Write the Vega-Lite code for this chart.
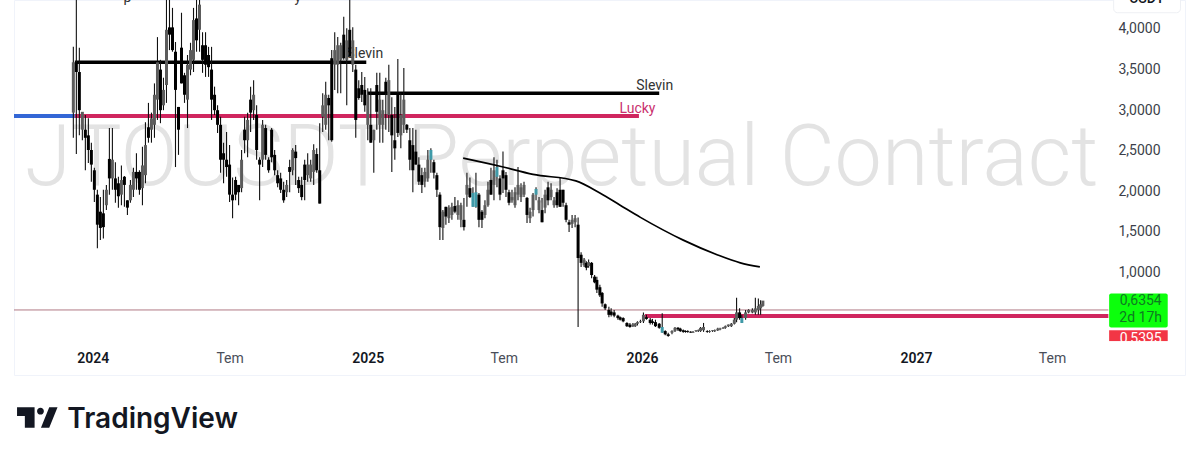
{"$schema":"https://vega.github.io/schema/vega-lite/v6.json","width":1171,"height":375,"autosize":{"type":"none"},"padding":{"left":14,"top":0,"right":15,"bottom":85},"background":"white","config":{"view":{"stroke":"#f0f3fa"},"font":"Roboto"},
"datasets":{"candles":[
{"d":"2023-12-06","h":3.76,"l":2.64,"o":2.95,"c":3.57,"s":"u"},{"d":"2023-12-10","h":4.45,"l":2.44,"o":3.57,"c":3.45,"s":"d"},{"d":"2023-12-14","h":3.75,"l":2.67,"o":3.45,"c":2.98,"s":"d"},{"d":"2023-12-18","h":2.92,"l":2.61,"o":2.74,"c":2.96,"s":"u"},{"d":"2023-12-22","h":2.92,"l":2.24,"o":2.74,"c":2.64,"s":"d"},{"d":"2023-12-26","h":2.88,"l":2.33,"o":2.67,"c":2.49,"s":"d"},{"d":"2023-12-30","h":2.58,"l":2.10,"o":2.49,"c":2.31,"s":"d"},
{"d":"2024-01-03","h":2.27,"l":1.85,"o":2.24,"c":2.00,"s":"d"},{"d":"2024-01-07","h":2.00,"l":1.28,"o":1.94,"c":1.57,"s":"d"},{"d":"2024-01-11","h":1.91,"l":1.38,"o":1.73,"c":1.53,"s":"d"},{"d":"2024-01-15","h":2.00,"l":1.40,"o":1.71,"c":1.54,"s":"d"},{"d":"2024-01-19","h":2.06,"l":1.75,"o":1.81,"c":2.00,"s":"u"},{"d":"2024-01-23","h":2.76,"l":1.94,"o":2.38,"c":2.14,"s":"d"},{"d":"2024-01-27","h":2.76,"l":2.00,"o":2.14,"c":2.37,"s":"u"},{"d":"2024-01-31","h":2.34,"l":1.84,"o":2.14,"c":2.00,"s":"d"},
{"d":"2024-02-04","h":2.16,"l":1.78,"o":2.08,"c":1.92,"s":"d"},{"d":"2024-02-08","h":2.30,"l":1.81,"o":1.94,"c":2.12,"s":"u"},{"d":"2024-02-12","h":2.17,"l":1.79,"o":2.16,"c":2.06,"s":"d"},{"d":"2024-02-16","h":1.87,"l":1.69,"o":1.87,"c":1.78,"s":"d"},{"d":"2024-02-20","h":2.12,"l":1.84,"o":1.87,"c":2.06,"s":"u"},{"d":"2024-02-24","h":2.27,"l":1.91,"o":2.00,"c":2.22,"s":"u"},{"d":"2024-02-28","h":2.45,"l":2.00,"o":2.22,"c":2.14,"s":"d"},
{"d":"2024-03-03","h":2.24,"l":1.94,"o":2.22,"c":2.00,"s":"d"},{"d":"2024-03-07","h":2.53,"l":1.81,"o":2.02,"c":2.30,"s":"u"},{"d":"2024-03-11","h":2.83,"l":2.08,"o":2.18,"c":2.55,"s":"u"},{"d":"2024-03-15","h":3.07,"l":2.58,"o":2.77,"c":2.64,"s":"d"},{"d":"2024-03-19","h":2.95,"l":2.58,"o":2.74,"c":2.88,"s":"u"},{"d":"2024-03-23","h":3.31,"l":2.64,"o":2.80,"c":3.17,"s":"u"},{"d":"2024-03-27","h":3.88,"l":2.86,"o":3.11,"c":3.57,"s":"u"},{"d":"2024-03-31","h":3.60,"l":2.82,"o":3.48,"c":2.98,"s":"d"},
{"d":"2024-04-04","h":3.38,"l":2.98,"o":3.04,"c":3.23,"s":"u"},{"d":"2024-04-08","h":4.40,"l":3.07,"o":3.29,"c":3.97,"s":"u"},{"d":"2024-04-12","h":4.45,"l":3.72,"o":4.00,"c":3.91,"s":"d"},{"d":"2024-04-16","h":4.24,"l":3.70,"o":4.00,"c":3.72,"s":"d"},{"d":"2024-04-20","h":3.82,"l":2.28,"o":3.70,"c":3.23,"s":"d"},{"d":"2024-04-24","h":3.02,"l":2.43,"o":3.02,"c":2.74,"s":"d"},{"d":"2024-04-28","h":4.18,"l":3.31,"o":3.75,"c":3.31,"s":"d"},
{"d":"2024-05-02","h":3.44,"l":3.07,"o":3.41,"c":3.17,"s":"d"},{"d":"2024-05-06","h":3.66,"l":2.76,"o":3.11,"c":3.54,"s":"u"},{"d":"2024-05-10","h":3.81,"l":3.41,"o":3.48,"c":3.72,"s":"u"},{"d":"2024-05-14","h":4.24,"l":3.45,"o":3.60,"c":4.09,"s":"u"},{"d":"2024-05-18","h":4.45,"l":3.70,"o":4.11,"c":3.84,"s":"d"},{"d":"2024-05-22","h":4.50,"l":3.70,"o":3.97,"c":4.28,"s":"u"},{"d":"2024-05-26","h":3.94,"l":3.44,"o":3.78,"c":3.60,"s":"d"},{"d":"2024-05-30","h":3.94,"l":3.39,"o":3.78,"c":3.54,"s":"d"},
{"d":"2024-06-03","h":3.76,"l":3.39,"o":3.66,"c":3.51,"s":"d"},{"d":"2024-06-07","h":3.76,"l":2.86,"o":3.48,"c":3.11,"s":"d"},{"d":"2024-06-11","h":3.27,"l":2.92,"o":3.17,"c":2.98,"s":"d"},{"d":"2024-06-15","h":3.04,"l":2.70,"o":2.98,"c":2.80,"s":"d"},{"d":"2024-06-19","h":2.90,"l":2.21,"o":2.80,"c":2.37,"s":"d"},{"d":"2024-06-23","h":2.58,"l":2.08,"o":2.45,"c":2.37,"s":"d"},{"d":"2024-06-27","h":2.71,"l":2.16,"o":2.37,"c":2.28,"s":"d"},
{"d":"2024-07-01","h":2.55,"l":1.85,"o":2.31,"c":1.94,"s":"d"},{"d":"2024-07-05","h":2.15,"l":1.65,"o":1.94,"c":1.87,"s":"d"},{"d":"2024-07-09","h":2.16,"l":1.87,"o":2.12,"c":1.94,"s":"d"},{"d":"2024-07-13","h":2.06,"l":1.81,"o":2.06,"c":1.97,"s":"d"},{"d":"2024-07-17","h":2.49,"l":1.97,"o":2.02,"c":2.37,"s":"u"},{"d":"2024-07-21","h":2.90,"l":2.45,"o":2.74,"c":2.61,"s":"d"},{"d":"2024-07-25","h":2.95,"l":2.40,"o":2.61,"c":2.86,"s":"u"},{"d":"2024-07-29","h":3.27,"l":2.71,"o":3.11,"c":2.95,"s":"d"},
{"d":"2024-08-02","h":3.35,"l":2.86,"o":2.98,"c":3.17,"s":"u"},{"d":"2024-08-06","h":3.04,"l":2.37,"o":2.92,"c":2.49,"s":"d"},{"d":"2024-08-10","h":2.40,"l":1.87,"o":2.37,"c":2.31,"s":"d"},{"d":"2024-08-14","h":2.86,"l":2.28,"o":2.37,"c":2.80,"s":"u"},{"d":"2024-08-18","h":2.80,"l":2.37,"o":2.76,"c":2.43,"s":"d"},{"d":"2024-08-22","h":2.40,"l":2.21,"o":2.37,"c":2.24,"s":"d"},{"d":"2024-08-26","h":2.76,"l":2.34,"o":2.74,"c":2.40,"s":"d"},{"d":"2024-08-30","h":2.49,"l":2.18,"o":2.43,"c":2.24,"s":"d"},
{"d":"2024-09-03","h":2.24,"l":2.03,"o":2.18,"c":2.08,"s":"d"},{"d":"2024-09-07","h":2.21,"l":1.96,"o":2.14,"c":2.00,"s":"d"},{"d":"2024-09-11","h":2.10,"l":1.84,"o":2.00,"c":1.87,"s":"d"},{"d":"2024-09-15","h":2.12,"l":1.91,"o":1.97,"c":2.06,"s":"u"},{"d":"2024-09-19","h":2.37,"l":1.97,"o":2.28,"c":2.22,"s":"d"},{"d":"2024-09-23","h":2.51,"l":2.18,"o":2.24,"c":2.49,"s":"u"},{"d":"2024-09-27","h":2.55,"l":2.06,"o":2.47,"c":2.39,"s":"d"},
{"d":"2024-10-01","h":2.16,"l":1.96,"o":2.12,"c":2.02,"s":"d"},{"d":"2024-10-05","h":2.16,"l":1.87,"o":2.06,"c":1.91,"s":"d"},{"d":"2024-10-09","h":2.37,"l":1.87,"o":2.31,"c":2.12,"s":"d"},{"d":"2024-10-13","h":2.45,"l":2.10,"o":2.18,"c":2.31,"s":"u"},{"d":"2024-10-17","h":2.37,"l":2.10,"o":2.14,"c":2.31,"s":"u"},{"d":"2024-10-21","h":2.56,"l":2.06,"o":2.22,"c":2.49,"s":"u"},{"d":"2024-10-25","h":2.51,"l":2.21,"o":2.44,"c":2.24,"s":"d"},{"d":"2024-10-29","h":2.82,"l":1.83,"o":2.24,"c":1.83,"s":"d"},
{"d":"2024-11-02","h":3.19,"l":2.71,"o":2.90,"c":3.04,"s":"u"},{"d":"2024-11-06","h":3.33,"l":2.74,"o":2.80,"c":3.17,"s":"u"},{"d":"2024-11-10","h":3.17,"l":2.61,"o":3.13,"c":3.04,"s":"d"},{"d":"2024-11-14","h":3.72,"l":2.59,"o":3.62,"c":2.61,"s":"d"},{"d":"2024-11-18","h":3.94,"l":3.23,"o":3.54,"c":3.72,"s":"u"},{"d":"2024-11-22","h":3.88,"l":3.19,"o":3.54,"c":3.78,"s":"u"},{"d":"2024-11-26","h":3.81,"l":3.19,"o":3.60,"c":3.78,"s":"u"},{"d":"2024-11-30","h":4.13,"l":3.60,"o":3.91,"c":3.62,"s":"d"},
{"d":"2024-12-04","h":3.99,"l":3.04,"o":3.60,"c":3.84,"s":"u"},{"d":"2024-12-08","h":4.45,"l":3.64,"o":3.97,"c":3.64,"s":"d"},{"d":"2024-12-12","h":4.00,"l":3.45,"o":3.54,"c":3.84,"s":"u"},{"d":"2024-12-16","h":3.54,"l":2.64,"o":3.48,"c":2.86,"s":"d"},{"d":"2024-12-20","h":3.35,"l":3.11,"o":3.25,"c":3.13,"s":"d"},{"d":"2024-12-24","h":3.45,"l":3.08,"o":3.29,"c":3.17,"s":"d"},{"d":"2024-12-28","h":3.39,"l":2.96,"o":3.23,"c":3.04,"s":"d"},
{"d":"2025-01-01","h":3.25,"l":2.61,"o":2.80,"c":3.17,"s":"u"},{"d":"2025-01-05","h":3.25,"l":2.58,"o":2.80,"c":2.58,"s":"d"},{"d":"2025-01-09","h":2.74,"l":2.21,"o":2.61,"c":2.74,"s":"u"},{"d":"2025-01-13","h":3.44,"l":2.74,"o":3.29,"c":2.96,"s":"d"},{"d":"2025-01-17","h":3.44,"l":2.58,"o":2.80,"c":3.11,"s":"u"},{"d":"2025-01-21","h":3.11,"l":2.58,"o":2.80,"c":2.98,"s":"u"},{"d":"2025-01-25","h":3.38,"l":2.74,"o":3.33,"c":3.19,"s":"d"},{"d":"2025-01-29","h":3.54,"l":2.71,"o":2.92,"c":3.35,"s":"u"},
{"d":"2025-02-02","h":3.14,"l":2.22,"o":2.92,"c":2.67,"s":"d"},{"d":"2025-02-06","h":3.02,"l":2.37,"o":2.61,"c":2.51,"s":"d"},{"d":"2025-02-10","h":3.61,"l":2.65,"o":3.19,"c":2.70,"s":"d"},{"d":"2025-02-14","h":3.19,"l":2.51,"o":2.67,"c":2.92,"s":"u"},{"d":"2025-02-18","h":3.50,"l":2.70,"o":2.80,"c":3.11,"s":"u"},{"d":"2025-02-22","h":2.81,"l":2.70,"o":2.80,"c":2.74,"s":"d"},{"d":"2025-02-26","h":2.76,"l":2.24,"o":2.61,"c":2.37,"s":"d"},
{"d":"2025-03-02","h":2.76,"l":1.97,"o":2.55,"c":2.24,"s":"d"},{"d":"2025-03-06","h":2.74,"l":2.31,"o":2.47,"c":2.31,"s":"d"},{"d":"2025-03-10","h":2.40,"l":2.06,"o":2.31,"c":2.10,"s":"d"},{"d":"2025-03-14","h":2.27,"l":1.96,"o":2.18,"c":2.06,"s":"d"},{"d":"2025-03-18","h":2.27,"l":2.03,"o":2.10,"c":2.22,"s":"u"},{"d":"2025-03-22","h":2.49,"l":2.10,"o":2.14,"c":2.37,"s":"u"},{"d":"2025-03-26","h":2.51,"l":2.21,"o":2.37,"c":2.49,"s":"t"},{"d":"2025-03-30","h":2.37,"l":2.14,"o":2.34,"c":2.21,"s":"d"},
{"d":"2025-04-03","h":2.21,"l":1.91,"o":2.18,"c":2.00,"s":"d"},{"d":"2025-04-07","h":1.97,"l":1.38,"o":1.94,"c":1.54,"s":"d"},{"d":"2025-04-11","h":1.75,"l":1.38,"o":1.53,"c":1.73,"s":"u"},{"d":"2025-04-15","h":1.79,"l":1.57,"o":1.79,"c":1.67,"s":"d"},{"d":"2025-04-19","h":1.81,"l":1.59,"o":1.65,"c":1.78,"s":"u"},{"d":"2025-04-23","h":1.84,"l":1.63,"o":1.69,"c":1.79,"s":"u"},{"d":"2025-04-27","h":1.91,"l":1.71,"o":1.80,"c":1.73,"s":"d"},
{"d":"2025-05-01","h":1.87,"l":1.63,"o":1.69,"c":1.81,"s":"u"},{"d":"2025-05-05","h":1.84,"l":1.54,"o":1.63,"c":1.81,"s":"u"},{"d":"2025-05-09","h":1.90,"l":1.50,"o":1.63,"c":1.54,"s":"d"},{"d":"2025-05-13","h":2.21,"l":1.79,"o":1.94,"c":2.06,"s":"u"},{"d":"2025-05-17","h":2.15,"l":1.90,"o":2.02,"c":1.91,"s":"d"},{"d":"2025-05-21","h":2.03,"l":1.79,"o":1.79,"c":1.96,"s":"t"},{"d":"2025-05-25","h":2.21,"l":1.78,"o":1.79,"c":1.97,"s":"t"},{"d":"2025-05-29","h":1.96,"l":1.54,"o":1.94,"c":1.63,"s":"d"},
{"d":"2025-06-02","h":1.75,"l":1.53,"o":1.73,"c":1.63,"s":"d"},{"d":"2025-06-06","h":1.87,"l":1.65,"o":1.69,"c":1.81,"s":"u"},{"d":"2025-06-10","h":2.10,"l":1.79,"o":1.81,"c":2.00,"s":"u"},{"d":"2025-06-14","h":2.27,"l":1.94,"o":2.12,"c":1.94,"s":"d"},{"d":"2025-06-18","h":2.40,"l":1.87,"o":2.06,"c":2.24,"s":"u"},{"d":"2025-06-22","h":2.37,"l":2.03,"o":2.16,"c":2.28,"s":"t"},{"d":"2025-06-26","h":2.18,"l":1.87,"o":2.14,"c":1.94,"s":"d"},{"d":"2025-06-30","h":2.47,"l":1.96,"o":2.24,"c":2.14,"s":"d"},
{"d":"2025-07-04","h":2.22,"l":1.91,"o":2.18,"c":2.00,"s":"d"},{"d":"2025-07-08","h":2.00,"l":1.81,"o":1.97,"c":1.84,"s":"d"},{"d":"2025-07-12","h":2.00,"l":1.84,"o":1.87,"c":1.91,"s":"u"},{"d":"2025-07-16","h":2.03,"l":1.78,"o":1.81,"c":1.97,"s":"u"},{"d":"2025-07-20","h":2.28,"l":1.87,"o":1.94,"c":2.06,"s":"u"},{"d":"2025-07-24","h":2.08,"l":1.85,"o":1.91,"c":2.03,"s":"u"},{"d":"2025-07-28","h":2.10,"l":1.91,"o":1.94,"c":2.06,"s":"u"},
{"d":"2025-08-01","h":1.91,"l":1.59,"o":1.90,"c":1.69,"s":"d"},{"d":"2025-08-05","h":1.78,"l":1.59,"o":1.65,"c":1.73,"s":"u"},{"d":"2025-08-09","h":1.96,"l":1.67,"o":1.75,"c":1.94,"s":"u"},{"d":"2025-08-13","h":2.03,"l":1.87,"o":1.94,"c":2.01,"s":"t"},{"d":"2025-08-17","h":1.91,"l":1.71,"o":1.75,"c":1.87,"s":"u"},{"d":"2025-08-21","h":1.90,"l":1.60,"o":1.75,"c":1.60,"s":"d"},{"d":"2025-08-25","h":2.00,"l":1.71,"o":1.78,"c":1.94,"s":"u"},{"d":"2025-08-29","h":2.10,"l":1.81,"o":2.03,"c":1.87,"s":"d"},
{"d":"2025-09-02","h":2.08,"l":1.87,"o":1.91,"c":2.00,"s":"u"},{"d":"2025-09-06","h":1.91,"l":1.78,"o":1.81,"c":1.87,"s":"u"},{"d":"2025-09-10","h":2.02,"l":1.78,"o":1.97,"c":1.81,"s":"d"},{"d":"2025-09-14","h":2.15,"l":1.79,"o":2.00,"c":1.79,"s":"d"},{"d":"2025-09-18","h":2.00,"l":1.79,"o":2.00,"c":1.84,"s":"d"},{"d":"2025-09-22","h":1.84,"l":1.60,"o":1.81,"c":1.63,"s":"d"},{"d":"2025-09-26","h":1.63,"l":1.48,"o":1.60,"c":1.57,"s":"d"},{"d":"2025-09-30","h":1.69,"l":1.53,"o":1.58,"c":1.63,"s":"u"},
{"d":"2025-10-04","h":1.69,"l":1.54,"o":1.60,"c":1.65,"s":"u"},{"d":"2025-10-08","h":1.66,"l":0.31,"o":1.57,"c":1.16,"s":"d"},{"d":"2025-10-12","h":1.23,"l":1.05,"o":1.20,"c":1.10,"s":"d"},{"d":"2025-10-16","h":1.16,"l":1.05,"o":1.07,"c":1.14,"s":"u"},{"d":"2025-10-19","h":1.12,"l":1.01,"o":1.10,"c":1.04,"s":"d"},{"d":"2025-10-22","h":1.14,"l":1.04,"o":1.06,"c":1.11,"s":"u"},{"d":"2025-10-26","h":1.11,"l":0.91,"o":1.10,"c":0.95,"s":"d"},{"d":"2025-10-30","h":0.95,"l":0.85,"o":0.93,"c":0.86,"s":"d"},
{"d":"2025-11-02","h":0.93,"l":0.73,"o":0.89,"c":0.77,"s":"d"},{"d":"2025-11-06","h":0.83,"l":0.68,"o":0.80,"c":0.70,"s":"d"},{"d":"2025-11-09","h":0.74,"l":0.56,"o":0.73,"c":0.60,"s":"d"},{"d":"2025-11-13","h":0.60,"l":0.52,"o":0.59,"c":0.54,"s":"d"},{"d":"2025-11-18","h":0.56,"l":0.43,"o":0.52,"c":0.46,"s":"d"},{"d":"2025-11-21","h":0.54,"l":0.44,"o":0.50,"c":0.46,"s":"d"},{"d":"2025-11-25","h":0.52,"l":0.43,"o":0.49,"c":0.45,"s":"d"},{"d":"2025-11-30","h":0.46,"l":0.40,"o":0.45,"c":0.42,"s":"d"},
{"d":"2025-12-03","h":0.44,"l":0.39,"o":0.43,"c":0.40,"s":"d"},{"d":"2025-12-07","h":0.43,"l":0.37,"o":0.42,"c":0.38,"s":"d"},{"d":"2025-12-12","h":0.37,"l":0.31,"o":0.36,"c":0.32,"s":"d"},{"d":"2025-12-16","h":0.36,"l":0.30,"o":0.34,"c":0.31,"s":"d"},{"d":"2025-12-20","h":0.36,"l":0.31,"o":0.32,"c":0.34,"s":"u"},{"d":"2025-12-23","h":0.36,"l":0.31,"o":0.32,"c":0.35,"s":"u"},{"d":"2025-12-26","h":0.38,"l":0.33,"o":0.35,"c":0.37,"s":"u"},{"d":"2025-12-30","h":0.40,"l":0.36,"o":0.37,"c":0.38,"s":"u"},
{"d":"2026-01-03","h":0.49,"l":0.36,"o":0.38,"c":0.46,"s":"u"},{"d":"2026-01-07","h":0.46,"l":0.40,"o":0.43,"c":0.41,"s":"d"},{"d":"2026-01-12","h":0.42,"l":0.34,"o":0.40,"c":0.36,"s":"d"},{"d":"2026-01-15","h":0.41,"l":0.34,"o":0.38,"c":0.36,"s":"d"},{"d":"2026-01-19","h":0.40,"l":0.31,"o":0.37,"c":0.32,"s":"d"},{"d":"2026-01-24","h":0.36,"l":0.29,"o":0.35,"c":0.30,"s":"d"},{"d":"2026-01-28","h":0.48,"l":0.24,"o":0.24,"c":0.31,"s":"t"},
{"d":"2026-02-01","h":0.27,"l":0.21,"o":0.26,"c":0.22,"s":"d"},{"d":"2026-02-05","h":0.24,"l":0.19,"o":0.22,"c":0.20,"s":"d"},{"d":"2026-02-10","h":0.27,"l":0.22,"o":0.24,"c":0.26,"s":"u"},{"d":"2026-02-14","h":0.31,"l":0.25,"o":0.26,"c":0.30,"s":"u"},{"d":"2026-02-18","h":0.31,"l":0.26,"o":0.30,"c":0.28,"s":"d"},{"d":"2026-02-21","h":0.30,"l":0.25,"o":0.29,"c":0.26,"s":"d"},{"d":"2026-02-25","h":0.28,"l":0.24,"o":0.27,"c":0.25,"s":"d"},{"d":"2026-02-28","h":0.27,"l":0.24,"o":0.26,"c":0.25,"s":"d"},
{"d":"2026-03-03","h":0.27,"l":0.24,"o":0.26,"c":0.25,"s":"d"},{"d":"2026-03-07","h":0.26,"l":0.24,"o":0.25,"c":0.24,"s":"d"},{"d":"2026-03-10","h":0.26,"l":0.24,"o":0.24,"c":0.25,"s":"u"},{"d":"2026-03-14","h":0.27,"l":0.25,"o":0.26,"c":0.27,"s":"u"},{"d":"2026-03-17","h":0.28,"l":0.25,"o":0.26,"c":0.27,"s":"u"},{"d":"2026-03-20","h":0.31,"l":0.25,"o":0.26,"c":0.30,"s":"u"},{"d":"2026-03-24","h":0.36,"l":0.25,"o":0.27,"c":0.31,"s":"u"},{"d":"2026-03-29","h":0.27,"l":0.24,"o":0.26,"c":0.25,"s":"d"},
{"d":"2026-04-01","h":0.27,"l":0.24,"o":0.25,"c":0.26,"s":"u"},{"d":"2026-04-05","h":0.27,"l":0.25,"o":0.26,"c":0.27,"s":"u"},{"d":"2026-04-08","h":0.28,"l":0.25,"o":0.26,"c":0.27,"s":"u"},{"d":"2026-04-12","h":0.30,"l":0.26,"o":0.27,"c":0.29,"s":"u"},{"d":"2026-04-15","h":0.30,"l":0.27,"o":0.28,"c":0.29,"s":"u"},{"d":"2026-04-19","h":0.31,"l":0.29,"o":0.29,"c":0.30,"s":"u"},{"d":"2026-04-22","h":0.33,"l":0.29,"o":0.30,"c":0.32,"s":"u"},{"d":"2026-04-26","h":0.34,"l":0.31,"o":0.32,"c":0.34,"s":"u"},{"d":"2026-04-30","h":0.36,"l":0.31,"o":0.32,"c":0.35,"s":"u"},
{"d":"2026-05-04","h":0.42,"l":0.34,"o":0.35,"c":0.40,"s":"u"},{"d":"2026-05-07","h":0.67,"l":0.37,"o":0.40,"c":0.49,"s":"u"},{"d":"2026-05-11","h":0.54,"l":0.40,"o":0.49,"c":0.42,"s":"d"},{"d":"2026-05-14","h":0.46,"l":0.36,"o":0.36,"c":0.42,"s":"t"},{"d":"2026-05-19","h":0.52,"l":0.40,"o":0.42,"c":0.49,"s":"u"},{"d":"2026-05-23","h":0.53,"l":0.48,"o":0.49,"c":0.52,"s":"u"},{"d":"2026-05-28","h":0.54,"l":0.48,"o":0.49,"c":0.52,"s":"u"},
{"d":"2026-06-01","h":0.67,"l":0.46,"o":0.49,"c":0.54,"s":"u"},{"d":"2026-06-05","h":0.66,"l":0.46,"o":0.52,"c":0.57,"s":"u"},{"d":"2026-06-08","h":0.64,"l":0.46,"o":0.54,"c":0.59,"s":"u"},{"d":"2026-06-11","h":0.62,"l":0.56,"o":0.57,"c":0.635,"s":"u"}
]},
"encoding":{
"x":{"field":"d","type":"temporal","title":null,"scale":{"type":"utc","domain":["2023-09-18","2027-12-25"],"padding":0},"axis":{"orient":"bottom","offset":-25,"domain":false,"ticks":false,"grid":false,"labelPadding":1,"labelBaseline":"top","labelFontSize":14,"labelFont":"Roboto","labelOverlap":false,"values":["2024-01-01","2024-07-01","2025-01-01","2025-07-01","2026-01-01","2026-07-01","2027-01-01","2027-07-01"],"labelExpr":"utcmonth(datum.value)==6?'Tem':utcFormat(datum.value,'%Y')","labelFontWeight":{"condition":{"test":"utcmonth(datum.value)==0","value":600},"value":400},"labelColor":{"condition":{"test":"utcmonth(datum.value)==0","value":"#131722"},"value":"#4a4e59"}}},
"y":{"field":"p","type":"quantitative","title":null,"scale":{"domain":[-0.281,4.337],"nice":false,"zero":false},"axis":{"orient":"right","offset":-67,"domain":false,"ticks":false,"grid":false,"labelPadding":0,"labelOffset":1.5,"labelAlign":"left","labelFontSize":14,"labelFont":"Roboto","labelColor":"#3b3f4a","values":[1,1.5,2,2.5,3,3.5,4],"labelExpr":"replace(format(datum.value,'.4f'),'.',',')"}}
},
"layer":[
{"data":{"values":[{"d":"2025-09-16","p":2.37,"t":"JTOUSDT Perpetual Contract"}]},"mark":{"type":"text","font":"Roboto","fontWeight":300,"fontSize":84.5,"color":"#e3e3e3","align":"center","baseline":"middle"},"encoding":{"text":{"field":"t"}}},
{"data":{"values":[{"d":"2023-09-18","b":"2027-09-14","p":0.52}]},"mark":{"type":"rule","color":"#b07a84","strokeWidth":1},"encoding":{"x2":{"field":"b"}}},
{"data":{"values":[{"d":"2026-01-05","b":"2027-09-14","p":0.446}]},"mark":{"type":"rule","color":"#d0265f","strokeWidth":4},"encoding":{"x2":{"field":"b"}}},
{"data":{"values":[{"d":"2023-09-18","b":"2023-12-08","p":2.91}]},"mark":{"type":"rule","color":"#3367d6","strokeWidth":4},"encoding":{"x2":{"field":"b"}}},
{"data":{"values":[{"d":"2023-12-08","b":"2025-12-28","p":2.91}]},"mark":{"type":"rule","color":"#d0265f","strokeWidth":4},"encoding":{"x2":{"field":"b"}}},
{"data":{"values":[{"d":"2023-12-08","b":"2024-12-30","p":3.57},{"d":"2025-01-01","b":"2026-01-24","p":3.19}]},"mark":{"type":"rule","color":"#000000","strokeWidth":3.5},"encoding":{"x2":{"field":"b"}}},
{"data":{"values":[{"d":"2024-12-28","p":3.67,"t":"Slevin"},{"d":"2026-01-18","p":3.28,"t":"Slevin"}]},"mark":{"type":"text","font":"Roboto","fontSize":14,"color":"#333333","align":"center","baseline":"middle"},"encoding":{"text":{"field":"t"}}},
{"data":{"values":[{"d":"2025-12-26","p":2.99,"t":"Lucky"}]},"mark":{"type":"text","font":"Roboto","fontSize":14,"color":"#c9306e","align":"center","baseline":"middle"},"encoding":{"text":{"field":"t"}}},
{"data":{"name":"candles"},"mark":{"type":"rule","color":"#111111","strokeWidth":1.1},"encoding":{"y":{"field":"h","type":"quantitative","title":null},"y2":{"field":"l"}}},
{"data":{"name":"candles"},"mark":{"type":"bar","size":3},"encoding":{"y":{"field":"o","type":"quantitative","title":null},"y2":{"field":"c"},"color":{"field":"s","type":"nominal","legend":null,"scale":{"domain":["d","u","t"],"range":["#000000","#5c5c5c","#3f9aa8"]}}}},
{"data":{"values":[{"d":"2025-05-08","p":2.39},{"d":"2025-06-26","p":2.29},{"d":"2025-08-09","p":2.19},{"d":"2025-10-05","p":2.11},{"d":"2025-11-06","p":1.96},{"d":"2025-12-03","p":1.81},{"d":"2025-12-30","p":1.66},{"d":"2026-02-25","p":1.38},{"d":"2026-04-11","p":1.20},{"d":"2026-05-12","p":1.10},{"d":"2026-06-07","p":1.05}]},"mark":{"type":"line","color":"#000000","strokeWidth":1.7,"interpolate":"monotone"}},
{"data":{"values":[{"d":"2027-09-15","b":"2027-12-02","p":0.724,"q":0.305}]},"mark":{"type":"rect","color":"#0cff0c","cornerRadius":2},"encoding":{"x2":{"field":"b"},"y2":{"field":"q"}}},
{"data":{"values":[{"d":"2027-09-15","b":"2027-12-02","p":0.27,"q":0.135}]},"mark":{"type":"rect","color":"#f23645"},"encoding":{"x2":{"field":"b"},"y2":{"field":"q"}}},
{"data":{"values":[{"d":"2027-10-27","p":0.63,"t":"0,6354"},{"d":"2027-10-27","p":0.42,"t":"2d 17h"}]},"mark":{"type":"text","font":"Roboto","fontSize":14,"color":"#0f7a22","align":"center","baseline":"middle"},"encoding":{"text":{"field":"t"}}},
{"data":{"values":[{"d":"2027-10-27","p":0.16,"t":"0,5395"}]},"mark":{"type":"text","font":"Roboto","fontSize":14,"color":"#ffffff","align":"center","baseline":"middle"},"encoding":{"text":{"field":"t"}}},
{"data":{"values":[{"d":"2027-09-10","b":"2027-12-10","p":0.135,"q":0.03}]},"mark":{"type":"rect","color":"#ffffff"},"encoding":{"x2":{"field":"b"},"y2":{"field":"q"}}},
{"data":{"values":[{"d":"2027-09-21","b":"2027-12-19","p":4.46,"q":4.18}]},"mark":{"type":"rect","fill":"#ffffff","stroke":"#eef0f4","cornerRadius":4},"encoding":{"x2":{"field":"b"},"y2":{"field":"q"}}},
{"data":{"values":[{"d":"2027-11-04","p":4.35,"t":"USDT"}]},"mark":{"type":"text","font":"Roboto","fontSize":14,"fontWeight":500,"color":"#131722","align":"center","baseline":"middle"},"encoding":{"text":{"field":"t"}}},
{"data":{"values":[{"d":"2024-02-16","p":4.36,"t":"p"},{"d":"2024-09-30","p":4.36,"t":"y"}]},"mark":{"type":"text","font":"Roboto","fontSize":14,"color":"#333333","align":"center","baseline":"middle"},"encoding":{"text":{"field":"t"}}},
{"data":{"values":[{"d":"2023-10-19","p":-0.804}]},"mark":{"type":"point","filled":true,"color":"#131722","opacity":1,"size":1640,"shape":"M-1 -.506L-.133 -.506L-.133 .506L-.614 .506L-.614 -.072L-1 -.072ZM-.012 -.313A.169 .169 0 1 1 .326 -.313A.169 .169 0 1 1 -.012 -.313ZM.59 -.506L1 -.506L.59 .506L.181 .506Z"}},
{"data":{"values":[{"d":"2023-11-28","p":-0.84,"t":"TradingView"}]},"mark":{"type":"text","font":"Inter","fontWeight":600,"fontSize":28,"color":"#131722","align":"left","baseline":"middle"},"encoding":{"text":{"field":"t"}}}
]}
